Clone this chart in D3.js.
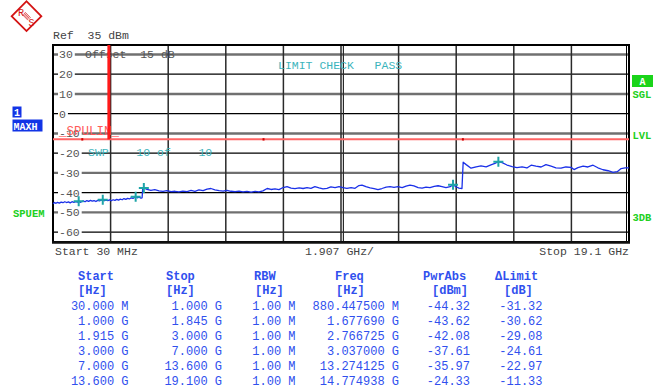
<!DOCTYPE html>
<html>
<head>
<meta charset="utf-8">
<script src="https://cdn.jsdelivr.net/npm/d3@7/dist/d3.min.js"></script>
<style>
  html, body { margin: 0; padding: 0; background: #fff; }
  svg { display: block; }
  text { font-family: "Liberation Mono", "DejaVu Sans Mono", monospace; }
</style>
</head>
<body>
<svg id="chart" width="653" height="392"></svg>
<script>
// ---- Spurious emission sweep: 30 MHz .. 19.1 GHz, Ref 35 dBm ----
const refLevel = 35;
const bottomLevel = -65;
const startGHz = 0.03;
const stopGHz = 19.1;
const levelTicks = [30, 20, 10, 0, -10, -20, -30, -40, -50, -60];
const limitLevel = -13;          // SPULIN limit line, dBm
const gapMarkerGHz = 1.88;       // vertical display line
const limitBreaksGHz = [1.0, 7.0, 13.6];

// Max-hold trace: frequency (GHz) and level (dBm)
const traceGHz = [
  0.03,0.08,0.13,0.18,0.24,0.30,0.36,0.42,0.48,0.54,0.60,0.66,0.72,0.78,0.84,0.8804475,0.93,0.98,
  1.03,1.09,1.15,1.21,1.27,1.33,1.39,1.45,1.51,1.57,1.62,1.67769,1.73,1.79,1.845,
  1.90,1.96,2.02,2.08,2.14,2.20,2.26,2.32,2.38,2.44,2.50,2.56,2.62,2.68,2.766725,2.82,2.88,2.94,2.98,
  3.00,3.037,3.14,3.27,3.40,3.54,3.67,3.80,3.94,4.07,4.20,4.33,4.47,4.60,4.73,4.86,5.00,5.13,5.26,5.39,
  5.53,5.66,5.79,5.92,6.06,6.19,6.32,6.45,6.59,6.72,6.85,6.98,
  7.12,7.25,7.38,7.51,7.65,7.78,7.91,8.04,8.18,8.31,8.44,8.57,8.70,8.84,8.97,9.10,9.23,9.37,9.50,9.63,
  9.76,9.90,10.03,10.16,10.26,10.39,10.53,10.66,10.79,10.92,11.06,11.19,11.32,11.45,11.59,11.72,11.85,
  11.98,12.12,12.25,12.38,12.51,12.65,12.78,12.91,13.04,13.18,13.274125,13.37,13.47,13.57,
  13.61,13.71,13.87,14.04,14.20,14.37,14.53,14.66,14.774938,14.90,15.06,15.23,15.39,15.56,15.72,15.86,
  16.02,16.19,16.35,16.52,16.68,16.85,17.01,17.18,17.28,17.41,17.58,17.74,17.91,18.07,18.24,18.41,
  18.57,18.71,18.84,18.97,19.10
];
const traceDBm = [
  -45.6,-45.0,-45.4,-44.9,-45.3,-44.8,-45.1,-44.6,-45.0,-44.7,-45.2,-44.6,-44.9,-44.5,-44.8,-44.32,-44.9,-44.6,
  -44.2,-44.6,-44.0,-44.4,-43.9,-44.3,-44.0,-44.5,-43.9,-44.2,-43.8,-43.62,-44.1,-43.8,-44.0,
  -43.7,-44.1,-43.6,-43.9,-43.4,-43.8,-43.3,-43.6,-43.0,-43.4,-42.9,-43.2,-42.6,-42.9,-42.08,-42.6,-42.3,-42.8,-42.6,
  -38.0,-37.61,-38.3,-38.8,-38.5,-39.1,-39.4,-39.0,-39.5,-39.3,-39.6,-39.2,-39.5,-38.9,-39.3,-38.6,-39.0,-38.2,-37.9,-38.6,
  -39.0,-39.2,-38.8,-39.3,-39.5,-39.2,-39.6,-39.4,-39.7,-39.3,-39.6,-39.1,
  -37.9,-38.4,-38.1,-38.5,-37.4,-37.0,-37.7,-38.0,-37.6,-37.9,-37.5,-37.8,-37.0,-37.6,-38.1,-37.8,-37.1,-37.5,-36.9,-37.4,
  -37.8,-37.5,-37.8,-36.4,-36.2,-37.0,-37.6,-38.0,-38.5,-37.9,-37.2,-37.0,-37.3,-37.0,-37.5,-36.7,-36.2,
  -36.6,-37.4,-37.7,-37.2,-37.5,-36.8,-36.5,-36.9,-37.4,-37.0,-35.97,-37.0,-37.7,-37.9,
  -24.6,-25.8,-27.6,-26.9,-26.4,-26.9,-25.9,-25.2,-24.33,-24.8,-26.0,-26.8,-27.3,-26.9,-27.5,-26.1,
  -26.6,-27.0,-25.8,-26.6,-27.4,-27.6,-27.0,-27.2,-28.3,-27.3,-26.6,-27.0,-26.1,-27.4,-28.4,-28.9,
  -29.7,-29.4,-27.8,-27.5,-27.4
];

// Peak list table
const rangeStartGHz = [0.030, 1.000, 1.915, 3.000, 7.000, 13.600];
const rangeStopGHz  = [1.000, 1.845, 3.000, 7.000, 13.600, 19.100];
const rbwMHz        = [1.00, 1.00, 1.00, 1.00, 1.00, 1.00];
const peakFreqGHz   = [0.8804475, 1.677690, 2.766725, 3.037000, 13.274125, 14.774938];
const peakPwrDBm    = [-44.32, -43.62, -42.08, -37.61, -35.97, -24.33];
const peakDeltaDB   = [-31.32, -30.62, -29.08, -24.61, -22.97, -11.33];

const svg = d3.select("#chart");
const x = d3.scaleLinear().domain([startGHz, stopGHz]).range([53, 629]);
const y = d3.scaleLinear().domain([bottomLevel, refLevel]).range([242, 44.6]);

const teal = "#3cb4bc";
const green = "#22d022";
const tableBlue = "#3050ee";
const logoRed = "#d41414";

// ---- logo: diamond with R / S and diagonal hatching ----
const logo = svg.append("g").attr("transform", "translate(26.5,16.2) rotate(45)");
logo.append("rect").attr("x", -10.5).attr("y", -10.5).attr("width", 21).attr("height", 21)
  .attr("fill", "#fff").attr("stroke", logoRed).attr("stroke-width", 1.8);
[-1.8, -0.6, 0.6, 1.8].forEach(d => {
  logo.append("line").attr("x1", -4).attr("x2", 4).attr("y1", d).attr("y2", d)
    .attr("stroke", logoRed).attr("stroke-width", 0.7);
});
svg.append("text").attr("x", 21).attr("y", 16).attr("text-anchor", "middle")
  .attr("font-family", "Liberation Serif").attr("font-size", 10)
  .attr("fill", logoRed).text("R");
svg.append("text").attr("x", 31.5).attr("y", 26).attr("text-anchor", "middle")
  .attr("font-family", "Liberation Serif").attr("font-size", 10)
  .attr("fill", logoRed).text("S");

// ---- header text ----
svg.append("text").attr("x", 53).attr("y", 39).attr("font-size", 11.5).attr("fill", "#444")
  .style("white-space", "pre").text("Ref  35 dBm");

// ---- grid ----
const grid = svg.append("g");
levelTicks.forEach((v, i) => {
  const heavy = (i % 2 === 0);
  grid.append("line").attr("x1", 53).attr("x2", 629).attr("y1", y(v)).attr("y2", y(v))
    .attr("stroke", heavy ? "#707070" : "#000").attr("stroke-width", heavy ? 2.4 : 1.3);
});
d3.range(1, 10).forEach(k => {
  const xv = x(startGHz + k * (stopGHz - startGHz) / 10);
  grid.append("line").attr("x1", xv).attr("x2", xv).attr("y1", 45).attr("y2", 242)
    .attr("stroke", "#2a2a2a").attr("stroke-width", 1.5);
  if (k === 5) {
    grid.append("line").attr("x1", xv + 2.4).attr("x2", xv + 2.4).attr("y1", 45).attr("y2", 242)
      .attr("stroke", "#2a2a2a").attr("stroke-width", 1.2);
  }
});

// level labels with a knockout behind them
const tickG = svg.append("g");
levelTicks.forEach(v => {
  const label = String(v);
  const w = label.length * 6.9;
  tickG.append("rect").attr("x", 58).attr("y", y(v) - 5).attr("width", w + 3).attr("height", 10)
    .attr("fill", "#fff");
  tickG.append("text").attr("x", 59).attr("y", y(v) + 4).attr("font-size", 11.5)
    .attr("fill", "#555").text(label);
});

// ---- frame ----
svg.append("rect").attr("x", 53).attr("y", 45).attr("width", 576).attr("height", 197)
  .attr("fill", "none").attr("stroke", "#000").attr("stroke-width", 2);
svg.append("line").attr("x1", 626.5).attr("x2", 626.5).attr("y1", 45).attr("y2", 242)
  .attr("stroke", "#000").attr("stroke-width", 1);
svg.append("line").attr("x1", 52).attr("x2", 630).attr("y1", 242.5).attr("y2", 242.5)
  .attr("stroke", "#111").attr("stroke-width", 2.5);

// ---- overlay texts ----
svg.append("text").attr("x", 85).attr("y", 58).attr("font-size", 11.5).attr("fill", "#555")
  .style("white-space", "pre").text("Offset  15 dB");
svg.append("text").attr("x", 278).attr("y", 69).attr("font-size", 11.5).attr("fill", teal)
  .style("white-space", "pre").text("LIMIT CHECK   PASS");
svg.append("text").attr("x", 88).attr("y", 156).attr("font-size", 11.5).attr("fill", teal)
  .style("white-space", "pre").text("SWP    10 of    10");

// ---- limit line and display line ----
svg.append("line").attr("x1", x(startGHz)).attr("x2", x(stopGHz))
  .attr("y1", y(limitLevel)).attr("y2", y(limitLevel))
  .attr("stroke", "#ff6464").attr("stroke-width", 2);
limitBreaksGHz.forEach(f => {
  svg.append("rect").attr("x", x(f) - 1).attr("y", y(limitLevel) - 1.2).attr("width", 2).attr("height", 2.4)
    .attr("fill", "#d00000");
});
svg.append("text").attr("x", 59).attr("y", 135).attr("font-size", 12.5).attr("fill", "#ff5a5a")
  .text("_SPULIN_");
svg.append("line").attr("x1", x(gapMarkerGHz)).attr("x2", x(gapMarkerGHz))
  .attr("y1", 45).attr("y2", y(limitLevel))
  .attr("stroke", "#ff1a1a").attr("stroke-width", 3);

// ---- trace ----
const pts = traceGHz.map((f, i) => [f, traceDBm[i]]);
svg.append("path").datum(pts)
  .attr("d", d3.line().x(d => x(d[0])).y(d => y(d[1])))
  .attr("fill", "none").attr("stroke", "#1a30e8").attr("stroke-width", 1.3)
  .attr("stroke-linejoin", "round");

// ---- peak markers ----
peakFreqGHz.forEach((f, i) => {
  const cx = x(f), cy = y(peakPwrDBm[i]);
  svg.append("path").attr("d", `M${cx - 5},${cy}H${cx + 5}M${cx},${cy - 5}V${cy + 5}`)
    .attr("stroke", "#1ea4a8").attr("stroke-width", 2).attr("fill", "none");
});

// ---- side annotations ----
svg.append("rect").attr("x", 12.5).attr("y", 106.5).attr("width", 9).attr("height", 11).attr("fill", "#1234e6");
svg.append("text").attr("x", 14).attr("y", 116).attr("font-size", 10).attr("font-weight", "bold")
  .attr("fill", "#fff").text("1");
svg.append("rect").attr("x", 12.5).attr("y", 119.5).attr("width", 30).attr("height", 12).attr("fill", "#1234e6");
svg.append("text").attr("x", 13.5).attr("y", 129.5).attr("font-size", 10).attr("font-weight", "bold")
  .attr("fill", "#fff").text("MAXH");
svg.append("text").attr("x", 13).attr("y", 217).attr("font-size", 10.5).attr("font-weight", "bold")
  .attr("fill", green).text("SPUEM");
svg.append("rect").attr("x", 632).attr("y", 75).attr("width", 21).attr("height", 12).attr("fill", "#1ad41a");
svg.append("text").attr("x", 642.5).attr("y", 84.5).attr("text-anchor", "middle").attr("font-size", 10)
  .attr("font-weight", "bold").attr("fill", "#fff").text("A");
[["SGL", 98], ["LVL", 138.5], ["3DB", 221]].forEach(([t, yy]) => {
  svg.append("text").attr("x", 632.5).attr("y", yy).attr("font-size", 10.5).attr("font-weight", "bold")
    .attr("fill", green).text(t);
});

// ---- frequency axis annotation ----
const fmtSpan = d3.format(".3f");
svg.append("text").attr("x", 55).attr("y", 255).attr("font-size", 11.5).attr("fill", "#444")
  .text(`Start ${Math.round(startGHz * 1000)} MHz`);
svg.append("text").attr("x", 305).attr("y", 255).attr("font-size", 11.5).attr("fill", "#444")
  .text(`${fmtSpan((stopGHz - startGHz) / 10)} GHz/`);
svg.append("text").attr("x", 629).attr("y", 255).attr("text-anchor", "end").attr("font-size", 11.5)
  .attr("fill", "#444").text(`Stop ${stopGHz} GHz`);

// ---- peak table ----
const headers = [
  ["Start", "[Hz]", 78, 78],
  ["Stop", "[Hz]", 166, 166],
  ["RBW", "[Hz]", 254, 255],
  ["Freq", "[Hz]", 335, 336],
  ["PwrAbs", "[dBm]", 423, 432],
  ["\u0394Limit", "[dB]", 495, 504]
];
const tbl = svg.append("g").attr("fill", tableBlue).attr("font-size", 12);
headers.forEach(([h1, h2, x1, x2]) => {
  tbl.append("text").attr("x", x1).attr("y", 280).attr("font-weight", "bold").text(h1);
  tbl.append("text").attr("x", x2).attr("y", 294).attr("font-weight", "bold").text(h2);
});
function fmtFreq(g, digits) {
  return g < 1 ? d3.format(`.${digits}f`)(g * 1000) + " M" : d3.format(`.${digits}f`)(g) + " G";
}
const colEnds = [128.5, 222, 295.5, 399, 470, 542.5];
const f2 = d3.format(".2f");
rangeStartGHz.forEach((s, i) => {
  const row = [
    fmtFreq(s, 3),
    fmtFreq(rangeStopGHz[i], 3),
    f2(rbwMHz[i]) + " M",
    fmtFreq(peakFreqGHz[i], 6),
    f2(peakPwrDBm[i]).replace("\u2212", "-"),
    f2(peakDeltaDB[i]).replace("\u2212", "-")
  ];
  row.forEach((t, c) => {
    tbl.append("text").attr("x", colEnds[c]).attr("y", 309.5 + i * 15)
      .attr("text-anchor", "end").style("white-space", "pre").text(t);
  });
});
</script>
</body>
</html>
